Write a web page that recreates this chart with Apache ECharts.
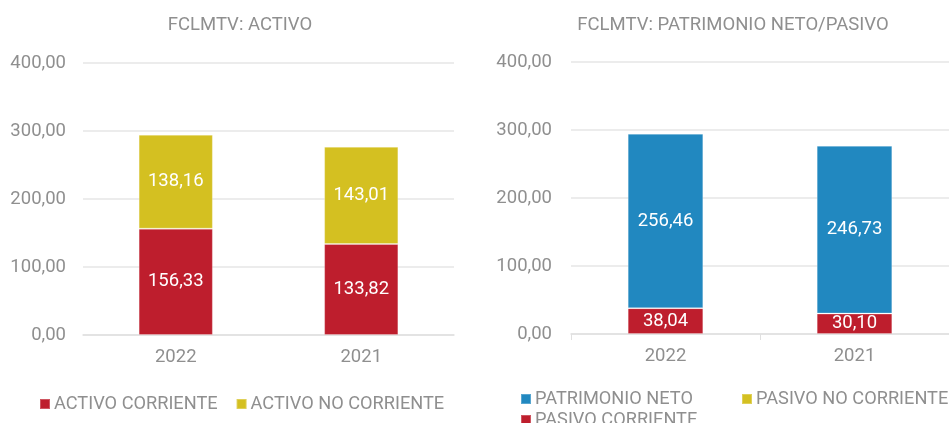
<!DOCTYPE html>
<html>
<head>
<meta charset="utf-8">
<script src="https://cdn.jsdelivr.net/npm/echarts@6/dist/echarts.min.js"></script>
<style>
  html, body { margin: 0; padding: 0; background: #fff; }
  #main { width: 949px; height: 423px; }
</style>
</head>
<body>
<div id="main"></div>
<script>
// --- data ---
const years = ['2022', '2021'];
const activoCorriente = [156.33, 133.82];
const activoNoCorriente = [138.16, 143.01];
const pasivoCorriente = [38.04, 30.10];
const pasivoNoCorriente = [0, 0];
const patrimonioNeto = [256.46, 246.73];

const RED = '#BE1E2D';
const YELLOW = '#D4C021';
const BLUE = '#2188C0';
const GREY = '#8f8f8f';
const FONT = 'Roboto';

const fmt = v => Number(v).toFixed(2).replace('.', ',');

const chart = echarts.init(document.getElementById('main'));

const yAxisBase = {
    type: 'value',
    min: 0,
    max: 400,
    interval: 100,
    axisLine: { show: false },
    axisTick: { show: false },
    axisLabel: { color: GREY, fontSize: 18.5, fontFamily: FONT, formatter: fmt },
    splitLine: { lineStyle: { color: '#e6e6e6', width: 1.5 } }
};

const barLabel = {
    show: true,
    position: 'inside',
    color: '#fff',
    fontSize: 18.5,
    fontFamily: FONT,
    formatter: p => (p.value > 0 ? fmt(p.value) : '')
};

function bar(name, data, color, idx, stack) {
    return {
        name: name,
        type: 'bar',
        stack: stack,
        xAxisIndex: idx,
        yAxisIndex: idx,
        data: data,
        barWidth: '40%',
        itemStyle: { color: color, borderColor: 'rgba(255,255,255,0.25)', borderWidth: 1 },
        label: barLabel
    };
}

const legendText = { color: GREY, fontSize: 18.2, fontFamily: FONT, padding: [0, 0, 0, -1] };

function legendAt(names, left, top) {
    return {
        data: names,
        left: left, top: top,
        itemWidth: 10, itemHeight: 10, itemGap: 18,
        icon: 'rect',
        textStyle: legendText
    };
}

const titleStyle = { color: GREY, fontSize: 18.5, fontWeight: 'normal', fontFamily: FONT };

const option = {
    animation: false,
    backgroundColor: '#fff',
    title: [
        { text: 'FCLMTV: ACTIVO', left: 235, top: 11, textAlign: 'center', textStyle: titleStyle },
        { text: 'FCLMTV: PATRIMONIO NETO/PASIVO', left: 728, top: 11, textAlign: 'center', textStyle: titleStyle }
    ],
    legend: [
        legendAt(['ACTIVO CORRIENTE', 'ACTIVO NO CORRIENTE'], 34, 390),
        legendAt(['PATRIMONIO NETO'], 515, 385),
        legendAt(['PASIVO NO CORRIENTE'], 736, 385),
        legendAt(['PASIVO CORRIENTE'], 515, 406)
    ],
    grid: [
        { left: 83, width: 371, top: 63, bottom: 88 },
        { left: 571, width: 380, top: 62, bottom: 89 }
    ],
    xAxis: [
        {
            type: 'category', gridIndex: 0, data: years,
            axisLine: { lineStyle: { color: '#e0e0e0', width: 1.5 } },
            axisTick: { show: false },
            axisLabel: { color: GREY, fontSize: 18.5, fontFamily: FONT, margin: 13 }
        },
        {
            type: 'category', gridIndex: 1, data: years,
            axisLine: { lineStyle: { color: '#e0e0e0', width: 1.5 } },
            axisTick: { show: true, length: 6, lineStyle: { color: '#e0e0e0' } },
            axisLabel: { color: GREY, fontSize: 18.5, fontFamily: FONT, margin: 13 }
        }
    ],
    yAxis: [
        Object.assign({}, yAxisBase, { gridIndex: 0, axisLabel: Object.assign({}, yAxisBase.axisLabel, { margin: 17 }) }),
        Object.assign({}, yAxisBase, { gridIndex: 1, axisLabel: Object.assign({}, yAxisBase.axisLabel, { margin: 19 }) })
    ],
    series: [
        bar('ACTIVO CORRIENTE', activoCorriente, RED, 0, 'a'),
        bar('ACTIVO NO CORRIENTE', activoNoCorriente, YELLOW, 0, 'a'),
        bar('PASIVO CORRIENTE', pasivoCorriente, RED, 1, 'p'),
        bar('PASIVO NO CORRIENTE', pasivoNoCorriente, YELLOW, 1, 'p'),
        bar('PATRIMONIO NETO', patrimonioNeto, BLUE, 1, 'p')
    ]
};

chart.setOption(option);
</script>
</body>
</html>
